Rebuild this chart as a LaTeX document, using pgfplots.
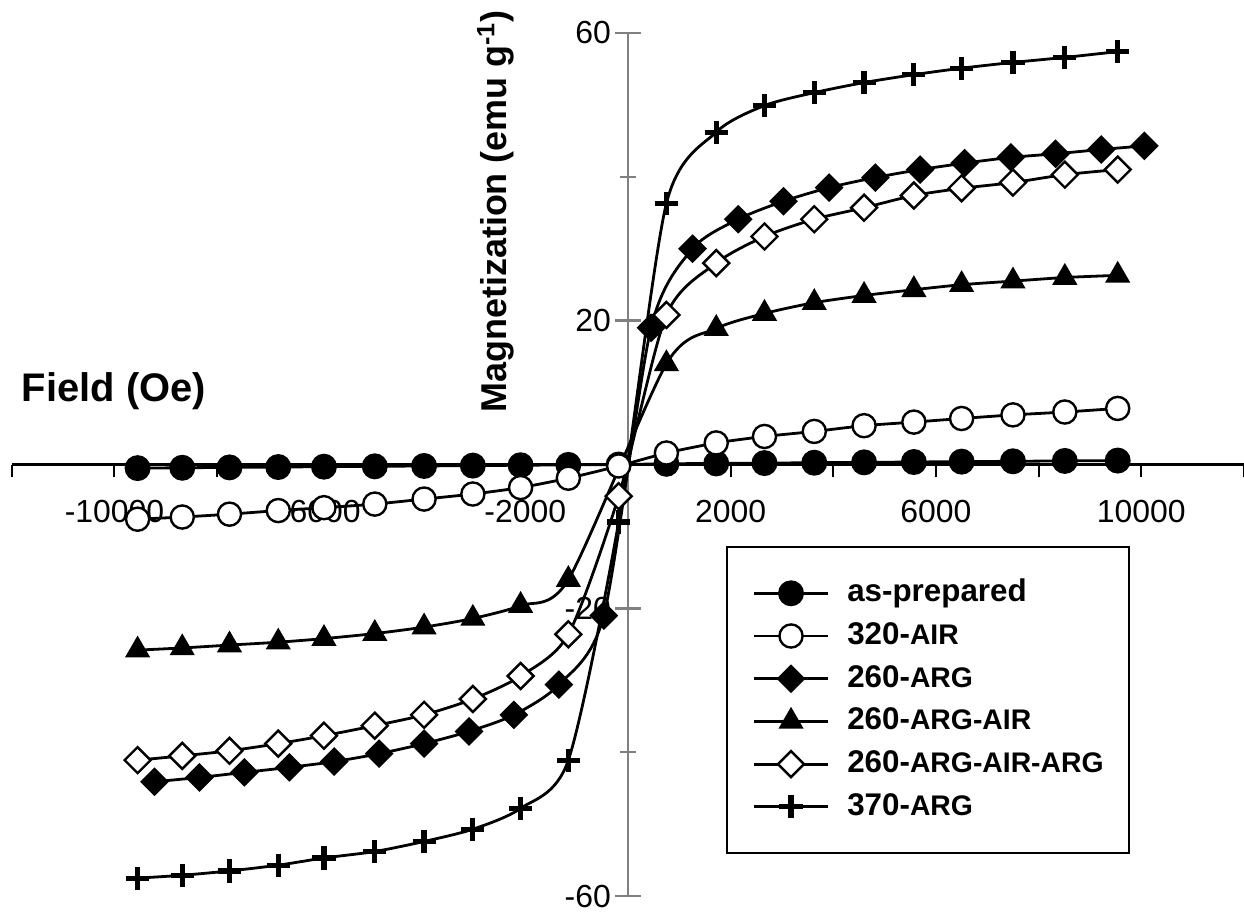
\documentclass[border=0pt]{standalone}
\usepackage{fontspec}
\setmainfont{Liberation Sans}
\usepackage{pgfplots}
\pgfplotsset{compat=1.18}

\newcommand{\lgA}{\fontsize{15.7}{18}\selectfont\bfseries}
\newcommand{\lgB}{\fontsize{14.2}{17}\selectfont}
\newcommand{\tk}{\fontsize{16}{19}\selectfont}

\pgfplotsset{
  common/.style={
    scale only axis, width=617.4pt, height=432.5pt,
    xmin=-12000, xmax=12000, ymin=-60, ymax=60,
    clip=false,
    scaled x ticks=false, scaled y ticks=false,
    tick label style={font=\tk},
    /pgf/number format/assume math mode=true,
  },
}

\begin{document}
\begin{tikzpicture}
% x axis only
\begin{axis}[common,
  axis x line=middle, axis y line=none,
  x axis line style={-, black, line width=1.8pt},
  tick align=outside, major tick length=6.5pt,
  xtick={-12000,-10000,-8000,-6000,-4000,-2000,2000,4000,6000,8000,10000,12000},
  xticklabels={{},-10000,{},-6000,{},-2000,2000,{},6000,{},10000,{}},
  xtick style={black, line width=1pt},
  ytick=\empty,
  xticklabel style={anchor=north, yshift=-8pt},
]
\end{axis}
% y axis, data
\begin{axis}[common,
  axis x line=none, axis y line=middle,
  y axis line style={-, draw=gray, line width=1.3pt},
  tick align=outside, major tick length=6.5pt, minor tick length=4pt,
  ytick={-60,-20,20,60}, yticklabels={-60,-20,20,60},
  minor ytick={-40,0,40},
  ytick style={gray, line width=1.2pt},
  xtick=\empty,
  yticklabel style={anchor=east, xshift=1.5pt},
  legend style={at={(axis cs:1916,-11.31)}, anchor=north west,
    draw=black, line width=1pt, fill=white,
    inner xsep=12.75pt, inner ysep=16pt, row sep=6.9pt, column sep=9pt,
    font=\lgA,
    nodes={inner sep=0pt, text height=11.5pt, text depth=3pt}},
  legend cell align=left,
  legend image code/.code={\draw[mark repeat=2,mark phase=2] plot coordinates {(0pt,0pt) (18.5pt,0pt) (37pt,0pt)};},
  every axis plot/.append style={black, line width=1.4pt, smooth, tension=0.45},
]
\coordinate (bl) at (axis cs:-12230,-62.22);
\coordinate (tr) at (axis cs:12000,64.58);
% right halves of the crossing y ticks
\draw[gray, line width=1.2pt] (axis cs:0,60) -- ++(6.5pt,0pt);
\draw[gray, line width=1.2pt] (axis cs:0,20) -- ++(6.5pt,0pt);
\draw[gray, line width=1.2pt] (axis cs:0,-20) -- ++(6.5pt,0pt);
\draw[gray, line width=1.2pt] (axis cs:0,-60) -- ++(6.5pt,0pt);
\draw[gray, line width=1.2pt] (axis cs:0,40) -- ++(4pt,0pt);
\draw[gray, line width=1.2pt] (axis cs:0,-40) -- ++(4pt,0pt);

% as-prepared
\addplot[mark=*, mark size=6pt, mark options={solid, fill=black, line width=1pt}] coordinates {
(-9550,-0.5) (-8680,-0.45) (-7760,-0.4) (-6810,-0.35) (-5920,-0.3) (-4930,-0.25)
(-3970,-0.2) (-3020,-0.15) (-2090,-0.1) (-1160,-0.05) (-180,0)
(750,0.1) (1720,0.15) (2660,0.2) (3630,0.25) (4600,0.3) (5570,0.35)
(6500,0.4) (7500,0.45) (8510,0.5) (9540,0.55)};
\addlegendentry{as-prepared}

% 320-AIR
\addplot[mark=*, mark size=5.8pt, mark options={solid, fill=white, line width=1.2pt}] coordinates {
(-9550,-7.6) (-8680,-7.3) (-7760,-6.9) (-6810,-6.4) (-5920,-6.0) (-4930,-5.5)
(-3970,-4.8) (-3020,-4.1) (-2090,-3.2) (-1160,-1.9) (-180,-0.2)
(750,1.6) (1720,3.0) (2660,3.9) (3630,4.6) (4600,5.4) (5570,5.9)
(6500,6.4) (7500,6.9) (8510,7.3) (9540,7.8)};
\addlegendentry{320-{\lgB AIR}}

% 260-ARG
\addplot[mark=square*, mark size=4.6pt, mark options={solid, fill=black, rotate=45, line width=1pt}] coordinates {
(-9220,-44.1) (-8345,-43.5) (-7470,-42.8) (-6595,-42.1) (-5720,-41.3) (-4845,-40.2)
(-3970,-38.8) (-3095,-37.1) (-2220,-34.8) (-1345,-30.6) (-470,-21.0)
(450,19.0) (1260,30.0) (2150,34.1) (3030,36.6) (3920,38.5) (4820,39.9)
(5690,41.0) (6560,41.9) (7460,42.7) (8330,43.2) (9220,43.8) (10060,44.3)};
\addlegendentry{260-{\lgB ARG}}

% 260-ARG-AIR
\addplot[mark=triangle*, mark size=6.3pt, mark options={solid, fill=black, line width=1pt}] coordinates {
(-9550,-25.8) (-8680,-25.5) (-7760,-25.1) (-6810,-24.7) (-5920,-24.2) (-4930,-23.5)
(-3970,-22.6) (-3020,-21.4) (-2090,-19.6) (-1160,-16.0)
(750,14.0) (1720,18.9) (2660,21.0) (3630,22.5) (4600,23.5) (5570,24.3)
(6500,25.0) (7500,25.5) (8510,26.0) (9540,26.3)};
\addlegendentry{260-{\lgB ARG-AIR}}

% 260-ARG-AIR-ARG
\addplot[mark=square*, mark size=4.6pt, mark options={solid, fill=white, rotate=45, line width=1.2pt}] coordinates {
(-9550,-41.1) (-8680,-40.5) (-7760,-39.8) (-6810,-38.8) (-5920,-37.7) (-4930,-36.3)
(-3970,-34.8) (-3020,-32.6) (-2090,-29.4) (-1160,-23.6) (-180,-4.4)
(750,20.8) (1720,28.0) (2660,31.7) (3630,34.1) (4600,35.7) (5570,37.4)
(6500,38.4) (7500,39.2) (8510,40.3) (9540,41.0)};
\addlegendentry{260-{\lgB ARG-AIR-ARG}}

% 370-ARG
\addplot[mark=+, mark size=5.8pt, mark options={solid, line width=2.6pt}] coordinates {
(-9550,-57.5) (-8680,-57.1) (-7760,-56.5) (-6810,-55.7) (-5920,-54.7) (-4930,-53.8)
(-3970,-52.4) (-3020,-50.7) (-2090,-47.8) (-1160,-41.1) (-180,-8.0)
(750,36.3) (1720,46.2) (2660,49.9) (3630,51.7) (4600,53.1) (5570,54.2)
(6500,55.1) (7500,55.9) (8510,56.6) (9540,57.4)};
\addlegendentry{370-{\lgB ARG}}

\node[anchor=west, font=\fontsize{20}{24}\selectfont\bfseries] at (axis cs:-11942,10.2) {Field (Oe)};
\node[rotate=90, font=\fontsize{18}{22}\selectfont\bfseries] at (axis cs:-2573,35.2) {Magnetization (emu g\textsuperscript{-1})};
\end{axis}
\pgfresetboundingbox
\path[use as bounding box] (bl) rectangle (tr);
\end{tikzpicture}
\end{document}
